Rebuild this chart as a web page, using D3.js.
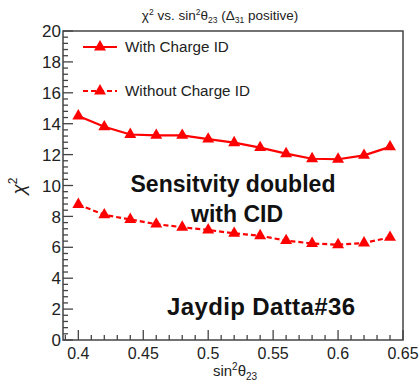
<!DOCTYPE html>
<html>
<head>
<meta charset="utf-8">
<script src="https://cdn.jsdelivr.net/npm/d3@7"></script>
<style>
  body { margin: 0; background: #fff; }
  svg { font-family: "Liberation Sans", Arial, sans-serif; }
</style>
</head>
<body>
<div id="chart"></div>
<script>
const sin2theta = [0.40, 0.42, 0.44, 0.46, 0.48, 0.50, 0.52, 0.54, 0.56, 0.58, 0.60, 0.62, 0.64];
const withCID = [14.5, 13.8, 13.3, 13.25, 13.25, 13.0, 12.77, 12.45, 12.06, 11.73, 11.7, 11.95, 12.5];
const withoutCID = [8.77, 8.1, 7.8, 7.5, 7.3, 7.12, 6.9, 6.75, 6.43, 6.25, 6.17, 6.28, 6.64];
const xTicks = [0.4, 0.45, 0.5, 0.55, 0.6, 0.65];
const yTicks = [0, 2, 4, 6, 8, 10, 12, 14, 16, 18, 20];

const width = 419, height = 384;
const margin = { top: 31, right: 16, bottom: 44, left: 63 };

const svg = d3.select('#chart').append('svg')
  .attr('width', width)
  .attr('height', height);

const x = d3.scaleLinear().domain([0.3882, 0.65]).range([margin.left, width - margin.right]);
const y = d3.scaleLinear().domain([0, 20]).range([height - margin.bottom, margin.top]);

// frame
svg.append('rect')
  .attr('x', x.range()[0]).attr('y', y.range()[1])
  .attr('width', x.range()[1] - x.range()[0])
  .attr('height', y.range()[0] - y.range()[1])
  .attr('fill', 'none').attr('stroke', '#444').attr('stroke-width', 1.5);

// minor ticks
const yMinor = d3.range(0, 20.001, 0.4);
svg.append('g').selectAll('line').data(yMinor).join('line')
  .attr('x1', x.range()[0]).attr('x2', d => x.range()[0] + (Math.abs(d / 2 - Math.round(d / 2)) < 1e-6 ? 10 : 5))
  .attr('y1', d => y(d)).attr('y2', d => y(d))
  .attr('stroke', '#444').attr('stroke-width', 1.3);

const xMinor = d3.range(0.39, 0.6501, 0.01);
svg.append('g').selectAll('line').data(xMinor).join('line')
  .attr('x1', d => x(d)).attr('x2', d => x(d))
  .attr('y1', y.range()[0])
  .attr('y2', d => y.range()[0] - (Math.abs(d / 0.05 - Math.round(d / 0.05)) < 1e-6 ? 10 : 5))
  .attr('stroke', '#444').attr('stroke-width', 1.3);

// tick labels
svg.append('g').selectAll('text').data(yTicks).join('text')
  .attr('x', x.range()[0] - 2).attr('y', d => y(d)).attr('dy', '0.36em')
  .attr('text-anchor', 'end').attr('font-size', 17).attr('fill', '#222')
  .attr('textLength', d => d >= 10 ? 19 : 9.5)
  .text(d => d);

svg.append('g').selectAll('text').data(xTicks).join('text')
  .attr('x', d => x(d)).attr('y', y.range()[0] + 19)
  .attr('text-anchor', 'middle').attr('font-size', 16).attr('fill', '#222')
  .text(d => d3.format('~g')(d));

// axis titles
const xt = svg.append('text').attr('x', 235).attr('y', 376)
  .attr('text-anchor', 'middle').attr('font-size', 15).attr('fill', '#222');
xt.append('tspan').text('sin');
xt.append('tspan').attr('font-size', 10).attr('dy', -6).text('2');
xt.append('tspan').attr('dy', 6).text('θ');
xt.append('tspan').attr('font-size', 10).attr('dy', 4).text('23');

const yt = svg.append('text').attr('transform', 'translate(25,186) rotate(-90)')
  .attr('text-anchor', 'middle').attr('font-size', 19).attr('fill', '#222');
yt.append('tspan').attr('font-style', 'italic').text('χ');
yt.append('tspan').attr('font-size', 12).attr('dy', -8).text('2');

// title
const tt = svg.append('text').attr('x', 220).attr('y', 20)
  .attr('text-anchor', 'middle').attr('font-size', 13.5).attr('fill', '#222');
tt.append('tspan').text('χ');
tt.append('tspan').attr('font-size', 8.5).attr('dy', -5).text('2');
tt.append('tspan').attr('dy', 5).text(' vs. sin');
tt.append('tspan').attr('font-size', 8.5).attr('dy', -5).text('2');
tt.append('tspan').attr('dy', 5).text('θ');
tt.append('tspan').attr('font-size', 8.5).attr('dy', 3).text('23');
tt.append('tspan').attr('dy', -3).text(' (Δ');
tt.append('tspan').attr('font-size', 8.5).attr('dy', 3).text('31');
tt.append('tspan').attr('dy', -3).text(' positive)');

// series
const series = [
  { name: 'With Charge ID', values: withCID, dash: null },
  { name: 'Without Charge ID', values: withoutCID, dash: '5,3' }
];
const line = d3.line().x(d => x(d[0])).y(d => y(d[1]));
const tri = d3.symbol().type(d3.symbolTriangle).size(62);

series.forEach((s, i) => {
  const pts = sin2theta.map((v, j) => [v, s.values[j]]);
  svg.append('path').datum(pts)
    .attr('d', line).attr('fill', 'none').attr('stroke', '#ff0000')
    .attr('stroke-width', 2.2).attr('stroke-dasharray', s.dash);
  svg.append('g').selectAll('path').data(pts).join('path')
    .attr('d', tri).attr('fill', '#ff0000')
    .attr('transform', d => `translate(${x(d[0])},${y(d[1])})`);

  // legend
  const ly = 47 + i * 44;
  svg.append('line').attr('x1', 83).attr('x2', 117).attr('y1', ly).attr('y2', ly)
    .attr('stroke', '#ff0000').attr('stroke-width', 2).attr('stroke-dasharray', s.dash);
  svg.append('path').attr('d', tri).attr('fill', '#ff0000')
    .attr('transform', `translate(100,${ly})`);
  svg.append('text').attr('x', 125).attr('y', ly).attr('dy', '0.36em')
    .attr('font-size', 15.2).attr('fill', '#222').text(s.name);
});

// annotations
svg.append('text').attr('x', 233).attr('y', 192).attr('text-anchor', 'middle')
  .attr('font-size', 23).attr('font-weight', 'bold').attr('fill', '#111')
  .attr('textLength', 205).text('Sensitvity  doubled');
svg.append('text').attr('x', 237).attr('y', 222).attr('text-anchor', 'middle')
  .attr('font-size', 23).attr('font-weight', 'bold').attr('fill', '#111')
  .text('with CID');
svg.append('text').attr('x', 261).attr('y', 315).attr('text-anchor', 'middle')
  .attr('font-size', 24).attr('font-weight', 'bold').attr('fill', '#111')
  .attr('textLength', 188).text('Jaydip Datta#36');
</script>
</body>
</html>
